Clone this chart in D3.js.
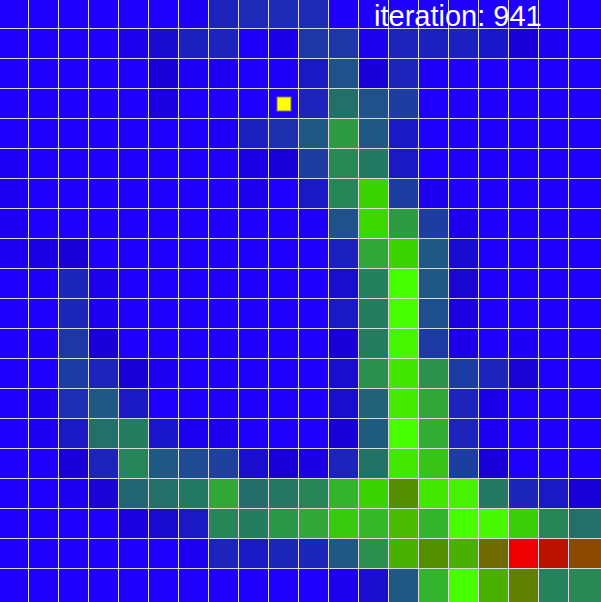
<!DOCTYPE html>
<html>
<head>
<meta charset="utf-8">
<script src="https://cdn.jsdelivr.net/npm/d3@7"></script>
<style>
html,body{margin:0;padding:0;background:#1f00ff;overflow:hidden;}
svg{display:block;}
</style>
</head>
<body>
<script>
// heat value per cell (rows top->bottom, columns left->right); 0 = cold, 1 = green, 2 = hot
const heat = [
 [0,0,0,0,0,0,0.03,0.2,0.22,0.22, 0.22,0.02,0,0,0,0,0,0,0,0],
 [0,0,0,0,0.05,0.13,0.19,0.2,0.02,0.06, 0.26,0.26,0.05,0.2,0.19,0.19,0.16,0.1,0.04,0],
 [0,0,0,0,0,0.1,0.03,0.04,0,0.02, 0.17,0.34,0.1,0.2,0.02,0,0,0,0,0],
 [0,0,0,0,0,0.08,0,0,0,0.01, 0.2,0.46,0.34,0.28,0,0,0,0,0,0],
 [0,0,0,0,0,0,0,0.03,0.19,0.24, 0.36,0.65,0.36,0.17,0,0,0,0,0,0],
 [0.03,0,0,0,0,0,0,0,0.07,0.1, 0.28,0.57,0.5,0.17,0,0,0,0,0,0],
 [0.04,0,0,0,0,0,0,0,0.05,0.01, 0.17,0.56,0.85,0.28,0.05,0,0,0,0,0],
 [0.04,0,0,0,0,0,0,0,0,0, 0.02,0.34,0.86,0.65,0.28,0.05,0,0,0,0],
 [0.04,0.07,0.1,0,0,0,0,0,0,0, 0,0.19,0.7,0.85,0.36,0.13,0,0,0,0],
 [0,0.02,0.21,0.05,0,0,0,0,0,0, 0,0.14,0.53,1,0.36,0.12,0,0,0,0],
 [0,0,0.21,0.04,0,0,0,0,0,0, 0,0.17,0.52,1,0.33,0.08,0,0,0,0],
 [0,0.02,0.26,0.1,0,0,0,0,0,0, 0,0.1,0.52,0.97,0.27,0.06,0,0.03,0,0],
 [0,0,0.27,0.2,0.1,0.04,0,0,0,0, 0,0.14,0.6,0.92,0.61,0.27,0.2,0.11,0,0],
 [0,0.04,0.23,0.36,0.17,0,0,0,0,0, 0,0.14,0.4,0.94,0.7,0.2,0.06,0,0,0],
 [0,0.04,0.17,0.46,0.52,0.16,0.04,0.05,0,0, 0,0.1,0.37,1,0.72,0.2,0.04,0,0,0],
 [0,0,0.1,0.2,0.55,0.36,0.32,0.29,0.14,0.1, 0.07,0.2,0.47,0.93,0.8,0.28,0.1,0,0,0],
 [0,0,0.04,0.11,0.42,0.46,0.5,0.7,0.45,0.49, 0.56,0.75,0.85,1.3,0.93,0.96,0.5,0.21,0.17,0.1],
 [0,0,0,0,0.08,0.13,0.17,0.56,0.52,0.63, 0.7,0.82,0.76,1.13,0.75,1,0.98,0.83,0.56,0.46],
 [0,0,0,0,0,0,0.04,0.2,0.17,0.21, 0.21,0.36,0.6,1.15,1.3,1.15,1.5,2,1.85,1.7],
 [0,0,0,0,0,0,0,0,0,0, 0,0.05,0.14,0.36,0.75,1,1.15,1.4,0.54,0.57]
];
const agent = {col: 9, row: 3};
const iteration = 941;
const titleLabel = "iteration: ";

const colorStops = [0,0.05,0.1,0.15,0.2,0.28,0.36,0.46,0.55,0.65,0.75,0.85,0.93,1,1.15,1.3,1.4,1.5,1.7,1.85,2];
const colorRange = ["#1f00ff","#1c00ee","#1a00d8","#1a12cc","#1c24bc","#1d3ea0","#1f5882","#237068","#26845a","#2e9a44","#33b42c","#3cd400","#43e800","#48ff00","#4ab000","#558f00","#5f8000","#706a00","#8b4800","#bb1100","#ee0000"];

const W = 601, H = 602, N = 20;
const x = d3.scaleLinear().domain([0, N]).range([-1, 599]);
const y = d3.scaleLinear().domain([0, N]).range([-1, 599]);
const color = d3.scaleLinear().domain(colorStops).range(colorRange);

const svg = d3.select("body").append("svg").attr("width", W).attr("height", H);
svg.append("rect").attr("width", W).attr("height", H).attr("fill", "#dcdcdc");

const cells = [];
heat.forEach((row, r) => row.forEach((v, c) => cells.push({r, c, v})));

svg.append("g").selectAll("rect").data(cells).join("rect")
  .attr("x", d => x(d.c))
  .attr("y", d => y(d.r))
  .attr("width", d => d.c === N - 1 ? W - x(d.c) : x(d.c + 1) - x(d.c) - 1)
  .attr("height", d => d.r === N - 1 ? H - y(d.r) : y(d.r + 1) - y(d.r) - 1)
  .attr("fill", d => color(d.v))
  .attr("shape-rendering", "crispEdges");

svg.append("rect")
  .attr("x", x(agent.col + 0.5) - 7)
  .attr("y", y(agent.row + 0.5) - 7)
  .attr("width", 14).attr("height", 14)
  .attr("fill", "#ffff00")
  .attr("stroke", "#7a7a50")
  .attr("stroke-width", 1);

svg.append("text")
  .attr("x", 374).attr("y", 26)
  .attr("fill", "#ffffff")
  .attr("font-family", "'Liberation Sans', Arial, Helvetica, sans-serif")
  .attr("font-size", 29)
  .text(titleLabel + iteration);
</script>
</body>
</html>
